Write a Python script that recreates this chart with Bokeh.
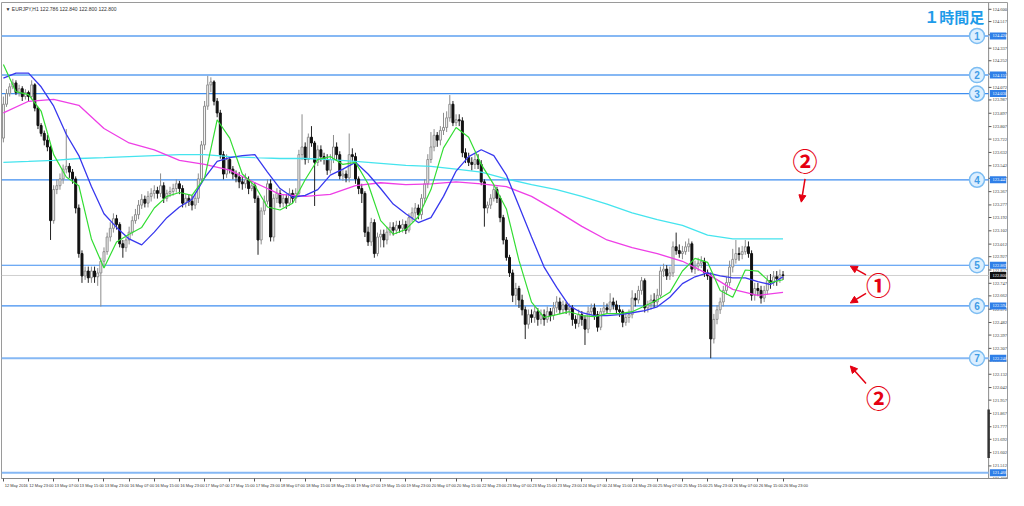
from bokeh.plotting import figure
from bokeh.models import (ColumnDataSource, Label, FixedTicker, Range1d,
                          Arrow, NormalHead)
from bokeh.embed import file_html
from bokeh.resources import INLINE

# ---------------- data (EURJPY H1) ----------------
first_open = 123.729
closes = [
    123.958, 124.030, 124.076, 124.102, 124.037, 124.063, 124.010, 124.037, 124.010, 124.089,
    123.932, 123.814, 123.761, 123.715, 123.669, 123.171, 123.381, 123.407, 123.453, 123.519,
    123.538, 123.499, 123.453, 123.256, 122.948, 122.797, 122.830, 122.784, 122.830, 122.791,
    122.817, 122.896, 122.961, 123.060, 123.119, 123.184, 123.145, 123.014, 122.988, 123.040,
    123.093, 123.171, 123.211, 123.276, 123.315, 123.289, 123.335, 123.355, 123.374, 123.355,
    123.407, 123.322, 123.355, 123.368, 123.388, 123.420, 123.388, 123.289, 123.322, 123.302,
    123.276, 123.322, 123.453, 123.683, 123.945, 124.089, 124.109, 123.978, 123.899, 123.617,
    123.486, 123.584, 123.519, 123.486, 123.466, 123.433, 123.420, 123.447, 123.388, 123.407,
    123.322, 123.040, 123.237, 123.302, 123.420, 123.060, 123.322, 123.355, 123.289, 123.322,
    123.289, 123.355, 123.322, 123.355, 123.617, 123.669, 123.584, 123.735, 123.696, 123.565,
    123.650, 123.604, 123.584, 123.512, 123.584, 123.669, 123.617, 123.473, 123.486, 123.460,
    123.617, 123.604, 123.453, 123.388, 123.355, 123.093, 123.027, 123.158, 122.948, 123.060,
    123.079, 123.040, 123.093, 123.126, 123.106, 123.139, 123.119, 123.145, 123.106, 123.191,
    123.224, 123.256, 123.211, 123.322, 123.420, 123.584, 123.669, 123.748, 123.715, 123.781,
    123.801, 123.866, 123.958, 123.833, 123.853, 123.846, 123.630, 123.597, 123.565, 123.551,
    123.584, 123.551, 123.433, 123.256, 123.276, 123.322, 123.381, 123.322, 123.191, 123.040,
    122.922, 122.817, 122.666, 122.712, 122.634, 122.568, 122.470, 122.535, 122.516, 122.555,
    122.503, 122.535, 122.503, 122.555, 122.529, 122.581, 122.621, 122.568, 122.601, 122.568,
    122.581, 122.503, 122.476, 122.535, 122.503, 122.437, 122.555, 122.581, 122.535, 122.450,
    122.555, 122.581, 122.568, 122.621, 122.601, 122.568, 122.555, 122.483, 122.516, 122.535,
    122.647, 122.634, 122.699, 122.765, 122.581, 122.601, 122.634, 122.621, 122.666, 122.830,
    122.843, 122.797, 122.817, 122.994, 122.968, 122.948, 122.961, 122.994, 123.014, 122.843,
    122.863, 122.883, 122.896, 122.817, 122.797, 122.371, 122.503, 122.568, 122.621, 122.699,
    122.752, 122.857, 122.909, 122.948, 122.942, 122.961, 122.994, 122.948, 122.666, 122.712,
    122.699, 122.647, 122.699, 122.765, 122.752, 122.791, 122.778, 122.804, 122.800,
]
highs = [
    124.01, 124.06, 124.10, 124.13, 124.12, 124.09, 124.08, 124.06, 124.05, 124.12,
    124.10, 123.94, 123.83, 123.78, 123.75, 123.68, 123.41, 123.45, 123.49, 123.55,
    123.79, 123.56, 123.52, 123.47, 123.28, 122.97, 122.86, 122.86, 122.86, 122.86,
    122.85, 122.92, 122.99, 123.09, 123.16, 123.22, 123.21, 123.16, 123.04, 123.07,
    123.13, 123.20, 123.25, 123.31, 123.35, 123.34, 123.37, 123.39, 123.41, 123.40,
    123.49, 123.43, 123.38, 123.40, 123.42, 123.45, 123.44, 123.41, 123.35, 123.35,
    123.34, 123.35, 123.49, 123.71, 123.98, 124.15, 124.14, 124.12, 124.00, 123.92,
    123.64, 123.62, 123.60, 123.54, 123.51, 123.50, 123.47, 123.49, 123.47, 123.44,
    123.43, 123.34, 123.26, 123.34, 123.45, 123.45, 123.35, 123.39, 123.38, 123.35,
    123.35, 123.39, 123.38, 123.39, 123.65, 123.89, 123.70, 123.76, 123.81, 123.71,
    123.68, 123.68, 123.63, 123.62, 123.62, 123.75, 123.70, 123.64, 123.52, 123.51,
    123.76, 123.66, 123.63, 123.47, 123.42, 123.37, 123.13, 123.19, 123.18, 123.09,
    123.11, 123.11, 123.13, 123.16, 123.16, 123.17, 123.17, 123.18, 123.17, 123.22,
    123.26, 123.29, 123.28, 123.35, 123.45, 123.62, 123.77, 123.79, 123.77, 123.81,
    123.90, 123.91, 124.02, 123.98, 123.89, 123.89, 123.87, 123.66, 123.63, 123.60,
    123.63, 123.62, 123.58, 123.45, 123.30, 123.35, 123.41, 123.40, 123.34, 123.21,
    123.06, 122.94, 122.84, 122.75, 122.73, 122.67, 122.59, 122.57, 122.57, 122.59,
    122.58, 122.57, 122.57, 122.59, 122.58, 122.62, 122.66, 122.65, 122.63, 122.62,
    122.61, 122.60, 122.53, 122.57, 122.56, 122.53, 122.59, 122.61, 122.61, 122.56,
    122.58, 122.62, 122.61, 122.68, 122.65, 122.63, 122.60, 122.57, 122.54, 122.57,
    122.70, 122.68, 122.73, 122.79, 122.78, 122.63, 122.67, 122.68, 122.71, 122.86,
    122.88, 122.87, 122.86, 123.03, 123.09, 123.01, 123.00, 123.03, 123.05, 123.03,
    122.90, 122.92, 122.93, 122.92, 122.84, 122.82, 122.54, 122.60, 122.65, 122.73,
    122.79, 122.90, 122.98, 123.04, 122.99, 123.00, 123.04, 123.03, 122.97, 122.75,
    122.75, 122.73, 122.73, 122.80, 122.81, 122.83, 122.83, 122.84, 122.83,
]
lows = [
    123.70, 123.94, 124.01, 124.06, 124.02, 124.01, 123.98, 123.99, 123.98, 123.99,
    123.91, 123.79, 123.74, 123.68, 123.64, 123.04, 123.15, 123.35, 123.38, 123.42,
    123.49, 123.46, 123.42, 123.22, 122.92, 122.75, 122.77, 122.75, 122.75, 122.75,
    122.73, 122.59, 122.87, 122.94, 123.03, 123.09, 123.11, 122.99, 122.92, 122.96,
    123.01, 123.07, 123.15, 123.18, 123.25, 123.26, 123.26, 123.30, 123.32, 123.32,
    123.33, 123.29, 123.30, 123.33, 123.34, 123.36, 123.35, 123.26, 123.26, 123.27,
    123.24, 123.25, 123.29, 123.42, 123.65, 123.92, 124.04, 123.95, 123.87, 123.59,
    123.45, 123.46, 123.49, 123.45, 123.43, 123.39, 123.38, 123.39, 123.35, 123.37,
    123.29, 122.94, 123.01, 123.21, 123.28, 123.03, 123.03, 123.29, 123.26, 123.26,
    123.25, 123.27, 123.29, 123.29, 123.33, 123.58, 123.55, 123.56, 123.67, 123.27,
    123.54, 123.57, 123.55, 123.48, 123.49, 123.56, 123.58, 123.45, 123.44, 123.43,
    123.43, 123.57, 123.42, 123.35, 123.29, 123.06, 123.00, 123.00, 122.92, 122.93,
    122.99, 122.99, 123.01, 123.07, 123.07, 123.08, 123.09, 123.09, 123.08, 123.09,
    123.16, 123.18, 123.18, 123.18, 123.29, 123.39, 123.56, 123.64, 123.67, 123.68,
    123.75, 123.77, 123.84, 123.81, 123.81, 123.81, 123.60, 123.56, 123.54, 123.51,
    123.52, 123.52, 123.41, 123.13, 123.22, 123.25, 123.30, 123.29, 123.16, 123.01,
    122.90, 122.79, 122.62, 122.60, 122.58, 122.53, 122.37, 122.44, 122.48, 122.48,
    122.46, 122.47, 122.46, 122.48, 122.49, 122.50, 122.55, 122.54, 122.54, 122.54,
    122.53, 122.46, 122.44, 122.45, 122.46, 122.33, 122.41, 122.53, 122.50, 122.42,
    122.43, 122.53, 122.54, 122.55, 122.57, 122.54, 122.52, 122.45, 122.46, 122.48,
    122.51, 122.59, 122.61, 122.67, 122.55, 122.55, 122.57, 122.58, 122.59, 122.65,
    122.79, 122.77, 122.77, 122.79, 122.94, 122.92, 122.91, 122.94, 122.96, 122.82,
    122.81, 122.83, 122.85, 122.79, 122.77, 122.24, 122.34, 122.47, 122.54, 122.59,
    122.67, 122.73, 122.82, 122.88, 122.90, 122.91, 122.94, 122.92, 122.63, 122.63,
    122.66, 122.61, 122.62, 122.67, 122.71, 122.73, 122.73, 122.75, 122.77,
]

# moving averages, sampled every 4 bars (fast) / every 8 bars (slow)
ma_green = [
    124.227, 124.043, 124.023, 123.912, 123.617, 123.466, 123.407, 123.047, 122.850, 123.027,
    123.079, 123.125, 123.256, 123.335, 123.361, 123.342, 123.460, 123.853, 123.729, 123.486,
    123.407, 123.263, 123.243, 123.289, 123.447, 123.584, 123.604, 123.551, 123.565, 123.420,
    123.171, 123.079, 123.112, 123.197, 123.381, 123.663, 123.801, 123.735, 123.551, 123.414,
    123.250, 122.902, 122.620, 122.516, 122.535, 122.555, 122.529, 122.522, 122.542, 122.542,
    122.555, 122.594, 122.634, 122.686, 122.830, 122.916, 122.889, 122.699, 122.653, 122.837,
    122.830, 122.752, 122.771,
]
ma_blue = [
    124.135, 124.168, 124.168, 124.076, 123.945, 123.755, 123.611, 123.401, 123.217, 123.125,
    123.047, 123.007, 123.093, 123.191, 123.263, 123.315, 123.460, 123.571, 123.597, 123.611,
    123.617, 123.499, 123.388, 123.329, 123.342, 123.381, 123.479, 123.519, 123.565, 123.486,
    123.388, 123.283, 123.217, 123.158, 123.191, 123.335, 123.506, 123.604, 123.650, 123.611,
    123.479, 123.270, 123.060, 122.857, 122.719, 122.594, 122.548, 122.529, 122.529, 122.535,
    122.548, 122.562, 122.588, 122.653, 122.745, 122.791, 122.817, 122.797, 122.784, 122.784,
    122.758, 122.739, 122.791,
]
ma_magenta = [
    123.899, 123.978, 123.991, 123.951, 123.794, 123.696, 123.650, 123.578, 123.551, 123.512,
    123.427, 123.348, 123.335, 123.348, 123.407, 123.427, 123.414, 123.420, 123.433, 123.420,
    123.401, 123.335, 123.237, 123.132, 123.040, 122.988, 122.948, 122.896, 122.811, 122.706,
    122.666, 122.686,
]
ma_cyan = [
    123.565, 123.571, 123.578, 123.591, 123.597, 123.604, 123.611, 123.617, 123.617, 123.604,
    123.597, 123.591, 123.591, 123.584, 123.571, 123.558, 123.545, 123.538, 123.519, 123.499,
    123.453, 123.414, 123.381, 123.335, 123.283, 123.224, 123.178, 123.139, 123.073, 123.047,
    123.047, 123.047,
]

time_labels = [
    "12 May 2016", "12 May 23:00", "13 May 07:00", "13 May 15:00", "13 May 23:00",
    "16 May 07:00", "16 May 15:00", "16 May 23:00", "17 May 07:00", "17 May 15:00",
    "17 May 23:00", "18 May 07:00", "18 May 15:00", "18 May 23:00", "19 May 07:00",
    "19 May 15:00", "19 May 23:00", "20 May 07:00", "20 May 15:00", "22 May 23:00",
    "23 May 07:00", "23 May 15:00", "23 May 23:00", "24 May 07:00", "24 May 15:00",
    "24 May 23:00", "25 May 07:00", "25 May 15:00", "25 May 23:00", "26 May 07:00",
    "26 May 15:00", "26 May 23:00",
]
price_ticks = [
    124.600, 124.517, 124.427, 124.337, 124.252, 124.162, 124.072, 123.987, 123.897, 123.807,
    123.722, 123.632, 123.542, 123.457, 123.367, 123.277, 123.192, 123.102, 123.012, 122.927,
    122.837, 122.747, 122.662, 122.572, 122.482, 122.397, 122.307, 122.222, 122.132, 122.042,
    121.957, 121.867, 121.777, 121.692, 121.602, 121.512, 121.427,
]
level_prices = [124.420, 124.155, 124.030, 123.447, 122.869, 122.594, 122.240]
level_names = ["1", "2", "3", "4", "5", "6", "7"]
level_light = [True, True, False, False, False, False, True]
bottom_level = 121.466
current_price = 122.800
scroll_mark = (121.565, 121.893)
header_text = "\u25BC EURJPY,H1  122.786 122.840 122.800 122.800"

# ---------------- layout constants (bar index units) ----------------
X_LEFT, X_AXIS, X_RIGHT = -0.6, 313.4, 319.4
Y_BOT, Y_TOP = 121.427, 124.646

p = figure(width=1008, height=490, output_backend="svg", toolbar_location=None,
           x_range=Range1d(X_LEFT, X_RIGHT), y_range=Range1d(Y_BOT, Y_TOP),
           x_axis_location="below", y_axis_location=None,
           min_border_left=1, min_border_top=2, min_border_right=1, min_border_bottom=0)
p.grid.visible = False
p.outline_line_color = "#9a9a9a"
p.background_fill_color = "white"
p.border_fill_color = "white"

# x axis (time labels to the right of each separator tick)
tick_pos = [8 * k + 4.1 for k in range(len(time_labels))]
p.xaxis.ticker = FixedTicker(ticks=tick_pos, minor_ticks=[8 * k for k in range(len(time_labels))])
p.xaxis.major_label_overrides = {t: lab for t, lab in zip(tick_pos, time_labels)}
p.xaxis.major_tick_out = 0
p.xaxis.major_tick_in = 0
p.xaxis.minor_tick_out = 3
p.xaxis.minor_tick_in = 0
p.xaxis.minor_tick_line_color = "#555555"
p.xaxis.major_label_text_font_size = "4px"
p.xaxis.major_label_text_font = "Liberation Sans"
p.xaxis.major_label_text_color = "#333333"
p.xaxis.major_label_standoff = 1
p.xaxis.axis_line_color = "#8a8a8a"

# price scale drawn on the right column
p.segment(x0=[X_AXIS], y0=[Y_BOT], x1=[X_AXIS], y1=[Y_TOP], line_color="#8a8a8a", line_width=1)
p.segment(x0=[X_AXIS] * len(price_ticks), y0=price_ticks,
          x1=[X_AXIS + 0.9] * len(price_ticks), y1=price_ticks, line_color="#555555", line_width=1)
p.text(x=[X_AXIS + 1.2] * len(price_ticks), y=price_ticks,
       text=[f"{t:.3f}" for t in price_ticks], text_font_size="4.5px",
       text_font="Liberation Sans", text_color="#333333",
       text_align="left", text_baseline="middle")
p.segment(x0=[X_AXIS], y0=[scroll_mark[0]], x1=[X_AXIS], y1=[scroll_mark[1]],
          line_color="#333333", line_width=2.5)

# horizontal level lines
p.segment(x0=[X_LEFT], y0=[current_price], x1=[X_AXIS], y1=[current_price],
          line_color="#cfcfcf", line_width=1)
for price, light in zip(level_prices + [bottom_level], level_light + [True]):
    if light:
        p.segment(x0=[X_LEFT], y0=[price], x1=[X_AXIS], y1=[price],
                  line_color="#86b8f4", line_width=2)
    else:
        p.segment(x0=[X_LEFT], y0=[price], x1=[X_AXIS], y1=[price],
                  line_color="#3f8ef0", line_width=1.2)

# candles
n = len(closes)
opens = [first_open] + closes[:-1]
xs = list(range(n))
up = [c >= o for o, c in zip(opens, closes)]

def subset(flag):
    ii = [i for i in xs if up[i] == flag]
    return ColumnDataSource(dict(
        x=ii,
        hi=[highs[i] for i in ii], lo=[lows[i] for i in ii],
        top=[max(opens[i], closes[i]) for i in ii],
        bot=[min(opens[i], closes[i]) for i in ii],
    ))

su, sd = subset(True), subset(False)
p.segment(x0="x", y0="lo", x1="x", y1="hi", source=su, line_color="#8c8c8c", line_width=1)
p.segment(x0="x", y0="lo", x1="x", y1="hi", source=sd, line_color="#222222", line_width=1)
p.vbar(x="x", width=0.62, top="top", bottom="bot", source=su,
       fill_color="white", line_color="#8c8c8c", line_width=1)
p.vbar(x="x", width=0.62, top="top", bottom="bot", source=sd,
       fill_color="#111111", line_color="#111111", line_width=1)

# moving averages
p.line(list(range(0, n, 8)), ma_cyan, line_color="#45e4ee", line_width=1.3)
p.line(list(range(0, n, 8)), ma_magenta, line_color="#ee3fe6", line_width=1.3)
p.line(list(range(0, n, 4)), ma_blue, line_color="#3838ee", line_width=1.3)
p.line(list(range(0, n, 4)), ma_green, line_color="#33dd33", line_width=1.2)

# circled level numbers at right end of lines
mark_x = [309.7] * len(level_prices)
p.scatter(mark_x, level_prices, size=15, marker="circle",
          fill_color="#dcefff", line_color="#7dbdf2", line_width=1.5)
p.text(mark_x, level_prices, text=level_names, text_align="center", text_baseline="middle",
       text_font_size="10px", text_color="#3f9ce6", text_font_style="bold")

# highlighted price boxes on the scale
box_prices = level_prices + [bottom_level]
p.rect(x=[X_AXIS + 3.0] * len(box_prices), y=box_prices, width=5.2, height=7,
       height_units="screen", fill_color="#2f7fe8", line_color=None)
p.text(x=[X_AXIS + 1.2] * len(box_prices), y=box_prices,
       text=[f"{v:.3f}" for v in box_prices], text_font_size="4.5px",
       text_font="Liberation Sans", text_color="white",
       text_align="left", text_baseline="middle")
p.rect(x=[X_AXIS + 3.0], y=[current_price], width=5.2, height=7,
       height_units="screen", fill_color="#111111", line_color=None)
p.text(x=[X_AXIS + 1.2], y=[current_price], text=[f"{current_price:.3f}"],
       text_font_size="4.5px", text_font="Liberation Sans", text_color="white",
       text_align="left", text_baseline="middle")

# header texts
p.add_layout(Label(x=X_LEFT, y=Y_TOP, text=header_text, text_font_size="5px",
                   text_font="Liberation Sans", text_color="#333333",
                   text_baseline="top", text_align="left", x_offset=4, y_offset=-3))
p.add_layout(Label(x=312.0, y=Y_TOP, text="１時間足", text_font_size="15px",
                   text_font="Noto Sans CJK JP", text_font_style="bold", text_color="#1e9be9",
                   text_baseline="top", text_align="right", y_offset=-3))

# red annotations
red = "#e50012"
for xx, yy, t in [(255.0, 123.584, "②"), (278.4, 122.745, "①"), (278.4, 121.978, "②")]:
    p.add_layout(Label(x=xx, y=yy, text=t, text_font_size="25px", text_font="Noto Sans CJK JP",
                       text_font_style="bold", text_color=red,
                       text_align="center", text_baseline="middle"))
for x0, y0, x1, y1 in [(255.0, 123.453, 253.8, 123.296),
                       (274.4, 122.804, 269.4, 122.863),
                       (274.4, 122.679, 269.4, 122.614),
                       (274.4, 122.070, 269.4, 122.188)]:
    p.add_layout(Arrow(end=NormalHead(size=7, fill_color=red, line_color=red),
                       x_start=x0, y_start=y0, x_end=x1, y_end=y1,
                       line_color=red, line_width=1.5))

open("out.html", "w").write(file_html(p, INLINE))
